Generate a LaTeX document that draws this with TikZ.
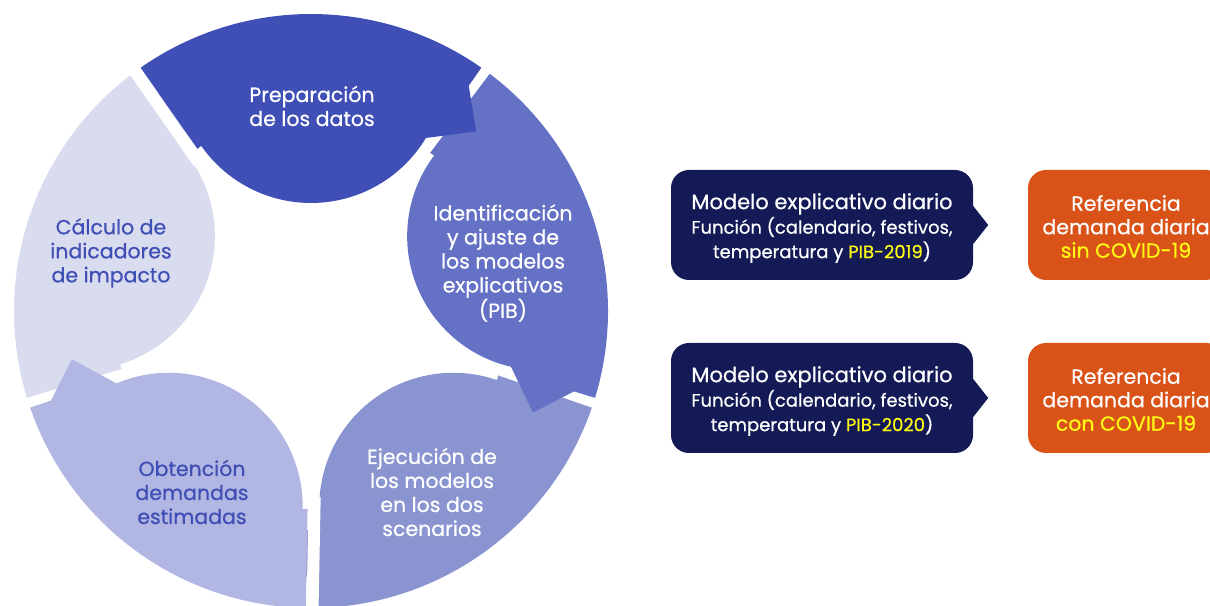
\documentclass[tikz,border=0pt]{standalone}
\usepackage{fontspec}
\setmainfont{Poppins}[FakeBold=0.6]
\usetikzlibrary{calc}
\definecolor{prepC}{RGB}{63,79,181}
\definecolor{identC}{RGB}{101,113,196}
\definecolor{ejecC}{RGB}{138,148,208}
\definecolor{obtC}{RGB}{177,182,226}
\definecolor{calcC}{RGB}{217,219,239}
\definecolor{navyC}{RGB}{20,26,85}
\definecolor{orangeC}{RGB}{217,83,25}
\definecolor{yellowC}{RGB}{255,250,20}
\tikzset{
  gapline/.style={white, line width=12pt, shorten <=-15pt, shorten >=-12pt},
  segtext/.style={align=center, font=\fontsize{20.5}{24}\selectfont},
  modelbox/.style={fill=navyC, rounded corners=18pt, minimum width=302pt, minimum height=110pt, inner sep=0pt},
  modeltext/.style={text=white, align=center, inner sep=0pt, font=\fontsize{18}{24.5}\selectfont},
  refbox/.style={fill=orangeC, rounded corners=18pt, minimum width=196pt, minimum height=110pt, inner sep=0pt},
  reftext/.style={text=white, align=center, inner sep=0pt, font=\fontsize{20.5}{23.5}\selectfont},
  pointer/.style={fill=navyC}
}
\begin{document}
\begin{tikzpicture}[x=1pt,y=1pt]
\useasboundingbox (0,0) rectangle (1210,605);
\clip (0,0) rectangle (1210,605);
% cycle segments (drawing order chosen so each overlap matches)
\foreach \ang/\col in {306/ejecC, 162/calcC, 234/obtC, 18/identC, 90/prepC} {
  \begin{scope}[shift={(311,294)}, rotate=\ang-90]
    \fill[\col] (125:297) -- (125:198) -- (-109.77,165.14)
      arc[start angle=215, end angle=329, radius=134]
      -- (47.4:244) -- (55:275) -- (55:297)
      arc[start angle=55, end angle=125, radius=297] -- cycle;
    \draw[gapline] (126.3:297) -- (127:198);
  \end{scope}
}
% segment texts
\node[segtext, text=white] (tprep) at (312,499) {Preparación\\de los datos};
\node[segtext, text=white] (tident) at (503,342) {Identificación\\y ajuste de\\los modelos\\explicativos\\(PIB)};
\node[segtext, text=prepC] (tcalc) at (111,352) {Cálculo de\\indicadores\\de impacto};
\node[segtext, text=prepC] (tobt) at (192,113) {Obtención\\demandas\\estimadas};
\node[segtext, text=white] (tejec) at (432,113) {Ejecución de\\los modelos\\en los dos\\scenarios};
% right side boxes
\node[modelbox] (m1) at (822,380) {};
\fill[pointer] ([yshift=19pt]m1.east) -- ([xshift=15pt]m1.east) -- ([yshift=-19pt]m1.east) -- cycle;
\node[modeltext] (m1t) at (822,377) {{\fontsize{21}{24.5}\selectfont Modelo explicativo diario}\\Función (calendario, festivos,\\temperatura y \textcolor{yellowC}{PIB-2019})};
\node[modelbox] (m2) at (822,207) {};
\fill[pointer] ([yshift=19pt]m2.east) -- ([xshift=15pt]m2.east) -- ([yshift=-19pt]m2.east) -- cycle;
\node[modeltext] (m2t) at (822,204) {{\fontsize{21}{24.5}\selectfont Modelo explicativo diario}\\Función (calendario, festivos,\\temperatura y \textcolor{yellowC}{PIB-2020})};
\node[refbox] (r1) at (1126,380) {};
\node[reftext] (r1t) at (1126,378.5) {Referencia\\demanda diaria\\\textcolor{yellowC}{sin COVID-19}};
\node[refbox] (r2) at (1126,207) {};
\node[reftext] (r2t) at (1126,205.5) {Referencia\\demanda diaria\\\textcolor{yellowC}{con COVID-19}};
\end{tikzpicture}
\end{document}
